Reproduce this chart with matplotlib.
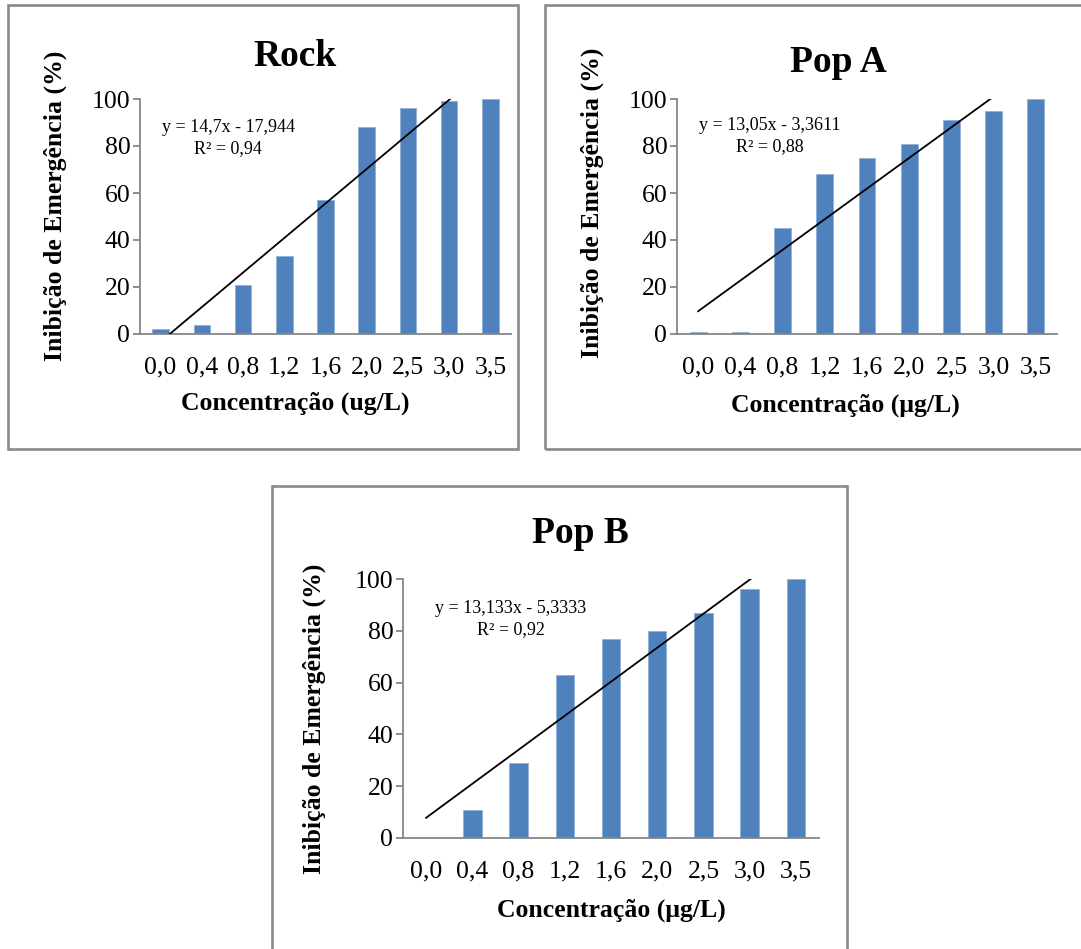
import numpy as np
import matplotlib
matplotlib.use("Agg")
import matplotlib.pyplot as plt
from matplotlib.patches import Rectangle

# ---------------- data ----------------
categories = ["0,0", "0,4", "0,8", "1,2", "1,6", "2,0", "2,5", "3,0", "3,5"]
rock_values = [2, 4, 21, 33, 57, 88, 96, 99, 100]
popa_values = [1, 1, 45, 68, 75, 81, 91, 95, 100]
popb_values = [0, 11, 29, 63, 77, 80, 87, 96, 100]

titles = ["Rock", "Pop A", "Pop B"]
equations = ["y = 14,7x - 17,944", "y = 13,05x - 3,3611", "y = 13,133x - 5,3333"]
r2_texts = ["R² = 0,94", "R² = 0,88", "R² = 0,92"]
xlabels = ["Concentração (ug/L)", "Concentração (μg/L)", "Concentração (μg/L)"]
ylabel = "Inibição de Emergência (%)"
yticks = [0, 20, 40, 60, 80, 100]

# ---------------- layout (pixels) ----------------
W, H = 1081, 949
DPI = 100
BAR = "#4F81BD"
GRAY = "#868686"
FONT = ["Liberation Serif", "DejaVu Serif"]

plt.rcParams["font.family"] = FONT

fig = plt.figure(figsize=(W / DPI, H / DPI), dpi=DPI)


def fx(px):
    return px / W


def fy(py):
    return 1 - py / H


panels = [
    dict(values=rock_values, ax=(140, 511, 99, 334), box=(8, 518, 5, 449),
         title=(295, 66), ylab=(55, 206), xlab=(295, 410), eq=(228, 132, 153)),
    dict(values=popa_values, ax=(677, 1057, 99, 334), box=(545, 1090, 5, 449),
         title=(838, 72), ylab=(592, 203), xlab=(845, 412), eq=(770, 130, 151)),
    dict(values=popb_values, ax=(403, 819, 579, 838), box=(272, 847, 486, 960),
         title=(580, 543), ylab=(314, 719), xlab=(611, 917), eq=(511, 613, 634)),
]

for i, p in enumerate(panels):
    l, r, t, b = p["box"]
    fig.patches.append(Rectangle((fx(l), fy(b)), fx(r) - fx(l), fy(t) - fy(b),
                                 transform=fig.transFigure, fill=False,
                                 edgecolor="#8A8A8A", linewidth=1.9))

    al, ar, at, ab = p["ax"]
    ax = fig.add_axes([fx(al), fy(ab), fx(ar) - fx(al), fy(at) - fy(ab)])
    vals = np.array(p["values"], dtype=float)
    xs = np.arange(len(categories))
    ax.bar(xs, vals, width=0.4, color=BAR, edgecolor="#8FB0DA", linewidth=0.6,
           zorder=2)

    # linear trendline (Excel style, x = 1..n)
    xi = np.arange(1, len(vals) + 1)
    slope, intercept = np.polyfit(xi, vals, 1)
    ax.plot(xi - 1, slope * xi + intercept, color="black", linewidth=1.3,
            zorder=3)

    ax.set_xlim(-0.5, len(categories) - 0.5)
    ax.set_ylim(0, 100)
    ax.set_xticks(xs)
    ax.set_xticklabels(categories)
    ax.set_yticks(yticks)
    for s in ["top", "right"]:
        ax.spines[s].set_visible(False)
    for s in ["left", "bottom"]:
        ax.spines[s].set_color(GRAY)
        ax.spines[s].set_linewidth(1.3)
    ax.tick_params(axis="y", length=5, width=1.3, color=GRAY, pad=2,
                   labelsize=18.5)
    ax.tick_params(axis="x", length=0, pad=16, labelsize=18.5)
    ax.set_facecolor("none")

    tx, ty = p["title"]
    fig.text(fx(tx), fy(ty), titles[i], ha="center", va="baseline",
             fontsize=27, fontweight="bold")
    yx, yy = p["ylab"]
    fig.text(fx(yx), fy(yy), ylabel, ha="center", va="center", rotation=90,
             fontsize=18.5, fontweight="bold")
    xx, xy = p["xlab"]
    fig.text(fx(xx), fy(xy), xlabels[i], ha="center", va="baseline",
             fontsize=18.5, fontweight="bold")
    ex, ey1, ey2 = p["eq"]
    fig.text(fx(ex), fy(ey1), equations[i], ha="center", va="baseline",
             fontsize=13)
    fig.text(fx(ex), fy(ey2), r2_texts[i], ha="center", va="baseline",
             fontsize=13)

fig.savefig("out.png", dpi=DPI)
